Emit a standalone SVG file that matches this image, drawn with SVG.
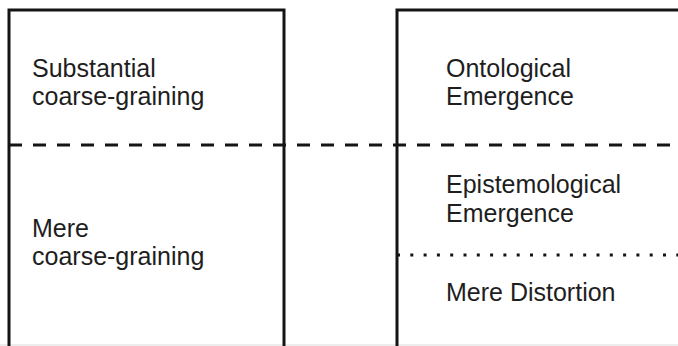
<svg xmlns="http://www.w3.org/2000/svg" width="678" height="346" viewBox="0 0 678 346">
<style>
  .frame{fill:none;stroke:#141414;stroke-width:3;stroke-linecap:square}
  .dash{fill:none;stroke:#141414;stroke-width:3;stroke-dasharray:13 11}
  .dot{fill:none;stroke:#141414;stroke-width:3;stroke-dasharray:3 10.3}
  .lbl{font-family:"Liberation Sans",Arial,sans-serif;font-size:25px;fill:#1e1e1e}
</style>
<rect x="0" y="0" width="678" height="346" fill="#ffffff"/>
<line x1="0" y1="345" x2="678" y2="345" stroke="#dcdcdc" stroke-width="1"/>
<g id="left-box">
  <path class="frame" d="M9,346 V10 H284 V346"/>
  <text class="lbl" x="32" y="76.5">Substantial</text>
  <text class="lbl" x="32" y="105">coarse-graining</text>
  <text class="lbl" x="32" y="236.5">Mere</text>
  <text class="lbl" x="32" y="265">coarse-graining</text>
</g>
<g id="right-box">
  <path class="frame" d="M397,346 V10 H680"/>
  <text class="lbl" x="446" y="76.5">Ontological</text>
  <text class="lbl" x="446" y="105">Emergence</text>
  <text class="lbl" x="446" y="193">Epistemological</text>
  <text class="lbl" x="446" y="222">Emergence</text>
  <text class="lbl" x="446" y="301">Mere Distortion</text>
</g>
<g id="connectors">
  <line class="dash" x1="9" y1="145" x2="678" y2="145"/>
  <line class="dot" x1="397" y1="255" x2="678" y2="255"/>
</g>
</svg>
